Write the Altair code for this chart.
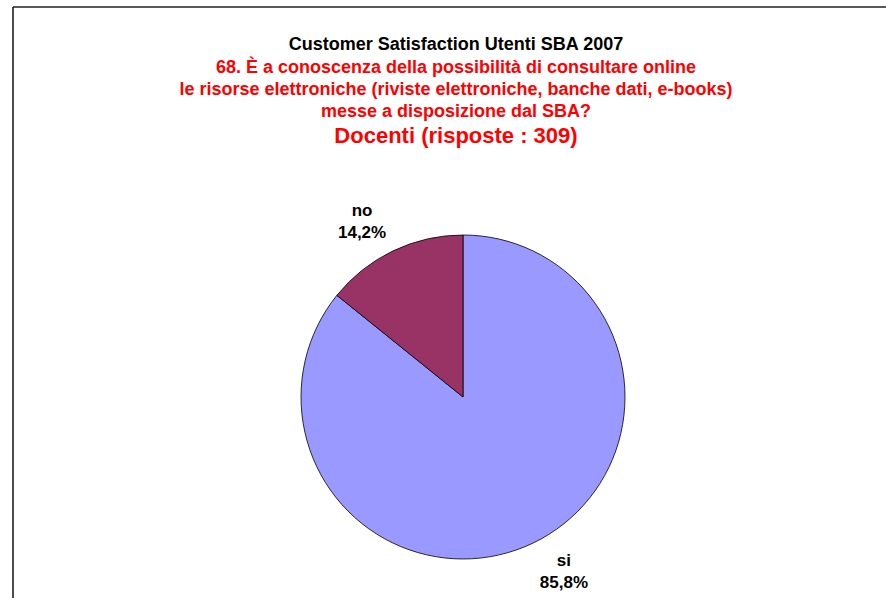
import altair as alt
import pandas as pd

# ---- data ----
categories = ["si", "no"]
values = [85.8, 14.2]
labels = ["si\n85,8%", "no\n14,2%"]
slice_order = [0, 1]
colors = ["#9999FF", "#993366"]

title_main = "Customer Satisfaction Utenti SBA 2007"
title_question = [
    "68. È a conoscenza della possibilità di consultare online",
    "le risorse elettroniche (riviste elettroniche, banche dati, e-books)",
    "messe a disposizione dal SBA?",
]
title_group = "Docenti (risposte : 309)"

df = pd.DataFrame({"cat": categories, "value": values, "label": labels, "ord": slice_order})

W, H = 886, 598
CX, CY, R = 463, 397, 162
FONT = "Liberation Sans"

base = alt.Chart(df).encode(
    theta=alt.Theta("value:Q", stack=True),
    order=alt.Order("ord:Q"),
    x=alt.value(CX),
    y=alt.value(CY),
)

pie = base.mark_arc(radius=R, stroke="black", strokeWidth=0.8).encode(
    color=alt.Color("cat:N", scale=alt.Scale(domain=categories, range=colors), legend=None)
)

pie_labels = base.mark_text(
    radius=202, thetaOffset=-0.077, dy=-11, font=FONT, fontSize=17, fontWeight="bold",
    color="black", lineBreak="\n", align="center", baseline="middle", lineHeight=22,
).encode(text="label:N")

one = pd.DataFrame({"k": [0]})

def text_line(txt, y, size, color):
    return alt.Chart(one).mark_text(
        text=txt, font=FONT, fontSize=size, fontWeight="bold", color=color,
        align="center", baseline="alphabetic",
    ).encode(x=alt.value(456), y=alt.value(y))

titles = [text_line(title_main, 50, 18, "black")]
for i, line in enumerate(title_question):
    titles.append(text_line(line, 73 + i * 22, 18, "#FF0000"))
titles.append(text_line(title_group, 143, 22, "#FF0000"))

border_top = alt.Chart(one).mark_rule(color="#222222", strokeWidth=1.5).encode(
    x=alt.value(13), x2=alt.value(W), y=alt.value(7)
)
border_left = alt.Chart(one).mark_rule(color="#111111", strokeWidth=1.5).encode(
    x=alt.value(13), y=alt.value(7), y2=alt.value(H)
)

chart = alt.layer(border_top, border_left, pie, pie_labels, *titles).properties(
    width=W, height=H, autosize=alt.AutoSizeParams(type="none"), padding=0,
    background="white",
).configure_view(stroke=None)

chart.save("out.html", embed_options={"renderer": "svg", "actions": False})
